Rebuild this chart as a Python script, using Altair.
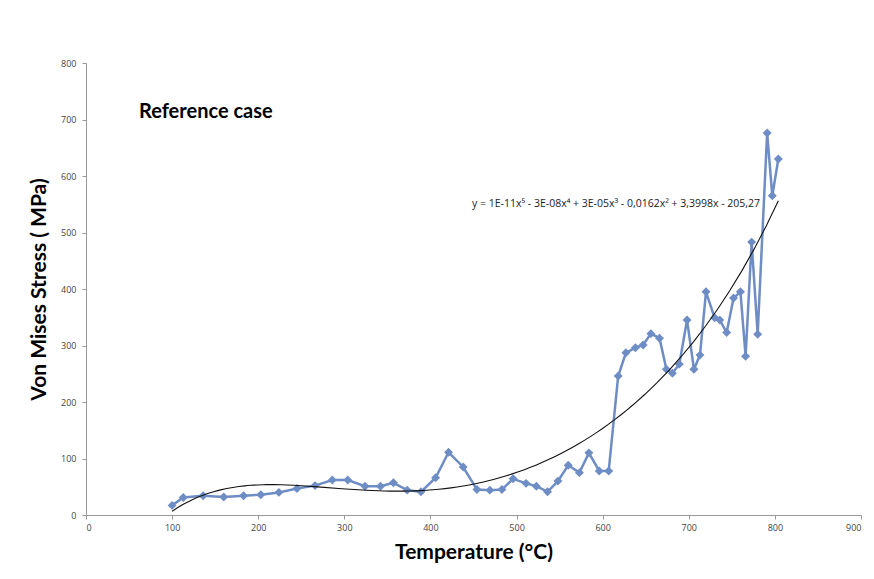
import altair as alt
import pandas as pd

temps = [100, 113, 136, 160, 183, 203, 224, 245, 266, 286, 304, 324, 342, 357, 373, 389, 406, 421, 438, 454,
         469, 483, 496, 511, 523, 536, 548, 560, 573, 584, 596, 607, 618, 627, 638, 647, 656, 666, 674, 681,
         689, 698, 706, 713, 720, 730, 736, 744, 752, 760, 766, 773, 780, 791, 797, 804]
stress = [17, 31, 34, 32, 34, 36, 40, 47, 52, 62, 62, 51, 51, 57, 44, 41, 66, 111, 85, 45,
          44, 45, 64, 56, 51, 41, 60, 88, 75, 110, 78, 78, 246, 287, 296, 301, 321, 313, 258, 251,
          267, 345, 258, 283, 395, 349, 345, 323, 384, 395, 281, 483, 320, 676, 565, 630]
x_ticks = [0, 100, 200, 300, 400, 500, 600, 700, 800, 900]
y_ticks = [0, 100, 200, 300, 400, 500, 600, 700, 800]
case_label = "Reference case"
equation = "y = 1E-11x\u2075 - 3E-08x\u2074 + 3E-05x\u00b3 - 0,0162x\u00b2 + 3,3998x - 205,27"

df = pd.DataFrame({"T": temps, "S": stress, "i": list(range(len(temps)))})

BLUE = "#6E8DC4"
FONT = "Lato"

xs = alt.X("T:Q", scale=alt.Scale(domain=[0, 900], nice=False),
           axis=alt.Axis(values=x_ticks, title="Temperature (°C)", grid=False,
                         labelFontSize=9, labelColor="#444", labelFont="Open Sans",
                         titleFontSize=21, titleFont=FONT, titleFontWeight="bold", titleColor="#000",
                         titlePadding=9, domainColor="#999", tickColor="#999", tickSize=4, labelPadding=4))
ys = alt.Y("S:Q", scale=alt.Scale(domain=[0, 800], nice=False),
           axis=alt.Axis(values=y_ticks, title="Von Mises Stress ( MPa)", grid=False,
                         labelFontSize=9, labelColor="#444", labelFont="Open Sans",
                         titleFontSize=21, titleFont=FONT, titleFontWeight="bold", titleColor="#000",
                         titlePadding=11, domainColor="#999", tickColor="#999", tickSize=4, labelPadding=6))

base = alt.Chart(df)

line = base.mark_line(color=BLUE, strokeWidth=2.5).encode(x=xs, y=ys, order="i:Q")
pts = base.mark_point(shape="diamond", filled=True, color=BLUE, size=80, opacity=1).encode(x=xs, y=ys)

trend = base.transform_regression("T", "S", method="poly", order=5).mark_line(
    color="#111", strokeWidth=1.1).encode(x="T:Q", y="S:Q")

lbl = alt.Chart(pd.DataFrame({"t": [case_label]})).mark_text(
    align="left", baseline="middle", fontSize=20, font=FONT, fontWeight="bold", color="#000"
).encode(x=alt.value(53), y=alt.value(49), text="t:N")

eq = alt.Chart(pd.DataFrame({"t": [equation]})).mark_text(
    align="left", baseline="middle", fontSize=10.5, font="Open Sans", color="#222"
).encode(x=alt.value(386), y=alt.value(141), text="t:N")

chart = alt.layer(line, pts, trend, lbl, eq).properties(
    width=775, height=452,
    autosize=alt.AutoSizeParams(type="none"),
    padding={"left": 78, "top": 55, "right": 4, "bottom": 60},
).configure_view(stroke=None)

chart.save("out.html", embed_options={"renderer": "svg", "actions": False})
